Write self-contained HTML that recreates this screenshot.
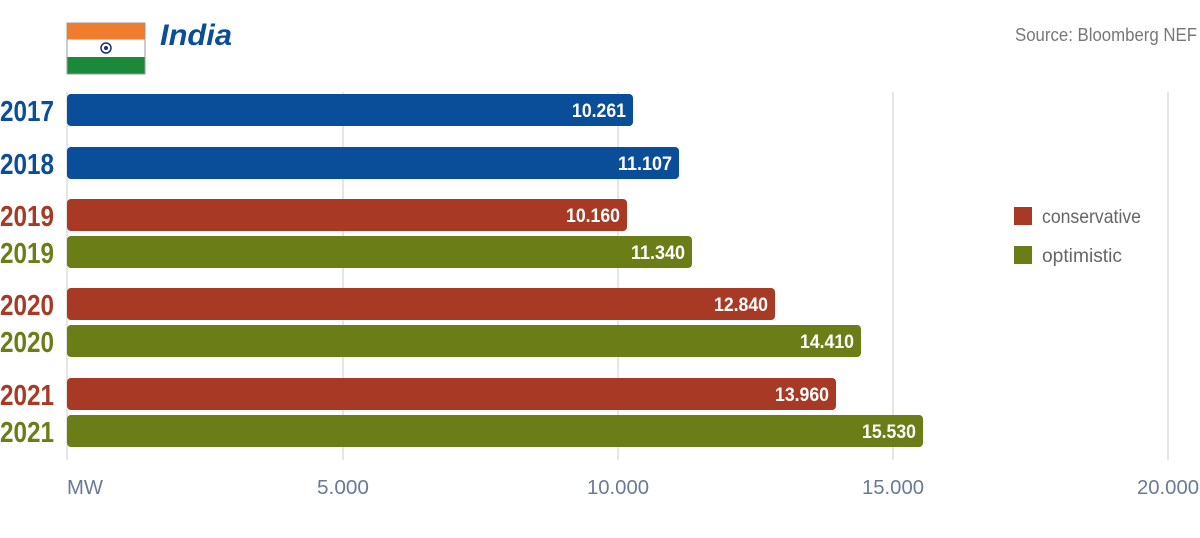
<!DOCTYPE html>
<html><head><meta charset="utf-8"><style>
html,body{margin:0;padding:0;background:#fff;}
svg{display:block;}
text{font-family:"Liberation Sans Narrow","Liberation Sans",sans-serif;}
</style></head><body>
<svg width="1200" height="538" xmlns="http://www.w3.org/2000/svg">
<!-- flag -->
<rect x="67" y="23" width="78" height="51" fill="#fff" stroke="#999" stroke-width="1"/>
<rect x="67.5" y="23.5" width="77" height="16" fill="#ef7d2d"/>
<rect x="67.5" y="57" width="77" height="16.5" fill="#1a8a3a"/>
<circle cx="106" cy="48" r="5" fill="none" stroke="#1d2b80" stroke-width="1.5"/>
<circle cx="106" cy="48" r="2" fill="#1d2b80"/>
<text x="160" y="45" font-size="30" font-weight="bold" font-style="italic" fill="#0a4d99" style="font-family:'Liberation Sans',sans-serif" textLength="72" lengthAdjust="spacingAndGlyphs">India</text>
<text x="1197" y="41" font-size="18" fill="#777" text-anchor="end" textLength="182" lengthAdjust="spacingAndGlyphs">Source: Bloomberg NEF</text>
<!-- grid -->
<g stroke="#d6d6d6" stroke-width="1.2">
<line x1="67" y1="92" x2="67" y2="460"/>
<line x1="343" y1="92" x2="343" y2="460"/>
<line x1="618" y1="92" x2="618" y2="460"/>
<line x1="893" y1="92" x2="893" y2="460"/>
<line x1="1168" y1="92" x2="1168" y2="460"/>
</g>
<g font-size="20" fill="#6b7a94">
<text x="67" y="494" textLength="36" lengthAdjust="spacingAndGlyphs">MW</text>
<text x="343" y="494" text-anchor="middle" textLength="52" lengthAdjust="spacingAndGlyphs">5.000</text>
<text x="618" y="494" text-anchor="middle" textLength="62" lengthAdjust="spacingAndGlyphs">10.000</text>
<text x="893" y="494" text-anchor="middle" textLength="62" lengthAdjust="spacingAndGlyphs">15.000</text>
<text x="1168" y="494" text-anchor="middle" textLength="62" lengthAdjust="spacingAndGlyphs">20.000</text>
</g>
<!-- bars -->
<g>
<rect x="67" y="94" width="566" height="32" rx="4" fill="#0a4d99"/>
<rect x="67" y="147" width="612" height="32" rx="4" fill="#0a4d99"/>
<rect x="67" y="199" width="560" height="32" rx="4" fill="#a83a25"/>
<rect x="67" y="236" width="625" height="32" rx="4" fill="#6b7d16"/>
<rect x="67" y="288" width="708" height="32" rx="4" fill="#a83a25"/>
<rect x="67" y="325" width="794" height="32" rx="4" fill="#6b7d16"/>
<rect x="67" y="378" width="769" height="32" rx="4" fill="#a83a25"/>
<rect x="67" y="415" width="856" height="32" rx="4" fill="#6b7d16"/>
</g>
<g font-size="19" font-weight="bold" fill="#fff" text-anchor="end">
<text x="626" y="117" textLength="54" lengthAdjust="spacingAndGlyphs">10.261</text>
<text x="672" y="170" textLength="54" lengthAdjust="spacingAndGlyphs">11.107</text>
<text x="620" y="222" textLength="54" lengthAdjust="spacingAndGlyphs">10.160</text>
<text x="685" y="259" textLength="54" lengthAdjust="spacingAndGlyphs">11.340</text>
<text x="768" y="311" textLength="54" lengthAdjust="spacingAndGlyphs">12.840</text>
<text x="854" y="348" textLength="54" lengthAdjust="spacingAndGlyphs">14.410</text>
<text x="829" y="401" textLength="54" lengthAdjust="spacingAndGlyphs">13.960</text>
<text x="916" y="438" textLength="54" lengthAdjust="spacingAndGlyphs">15.530</text>
</g>
<g font-size="29" font-weight="bold">
<text x="0" y="121" fill="#0a4d99" textLength="54" lengthAdjust="spacingAndGlyphs">2017</text>
<text x="0" y="174" fill="#0a4d99" textLength="54" lengthAdjust="spacingAndGlyphs">2018</text>
<text x="0" y="226" fill="#a83a25" textLength="54" lengthAdjust="spacingAndGlyphs">2019</text>
<text x="0" y="263" fill="#6b7d16" textLength="54" lengthAdjust="spacingAndGlyphs">2019</text>
<text x="0" y="315" fill="#a83a25" textLength="54" lengthAdjust="spacingAndGlyphs">2020</text>
<text x="0" y="352" fill="#6b7d16" textLength="54" lengthAdjust="spacingAndGlyphs">2020</text>
<text x="0" y="405" fill="#a83a25" textLength="54" lengthAdjust="spacingAndGlyphs">2021</text>
<text x="0" y="442" fill="#6b7d16" textLength="54" lengthAdjust="spacingAndGlyphs">2021</text>
</g>
<!-- legend -->
<rect x="1014" y="207" width="18" height="18" fill="#a83a25"/>
<rect x="1014" y="246" width="18" height="18" fill="#6b7d16"/>
<g font-size="19" fill="#666">
<text x="1042" y="223" textLength="99" lengthAdjust="spacingAndGlyphs">conservative</text>
<text x="1042" y="262" textLength="80" lengthAdjust="spacingAndGlyphs">optimistic</text>
</g>
</svg>
</body></html>
